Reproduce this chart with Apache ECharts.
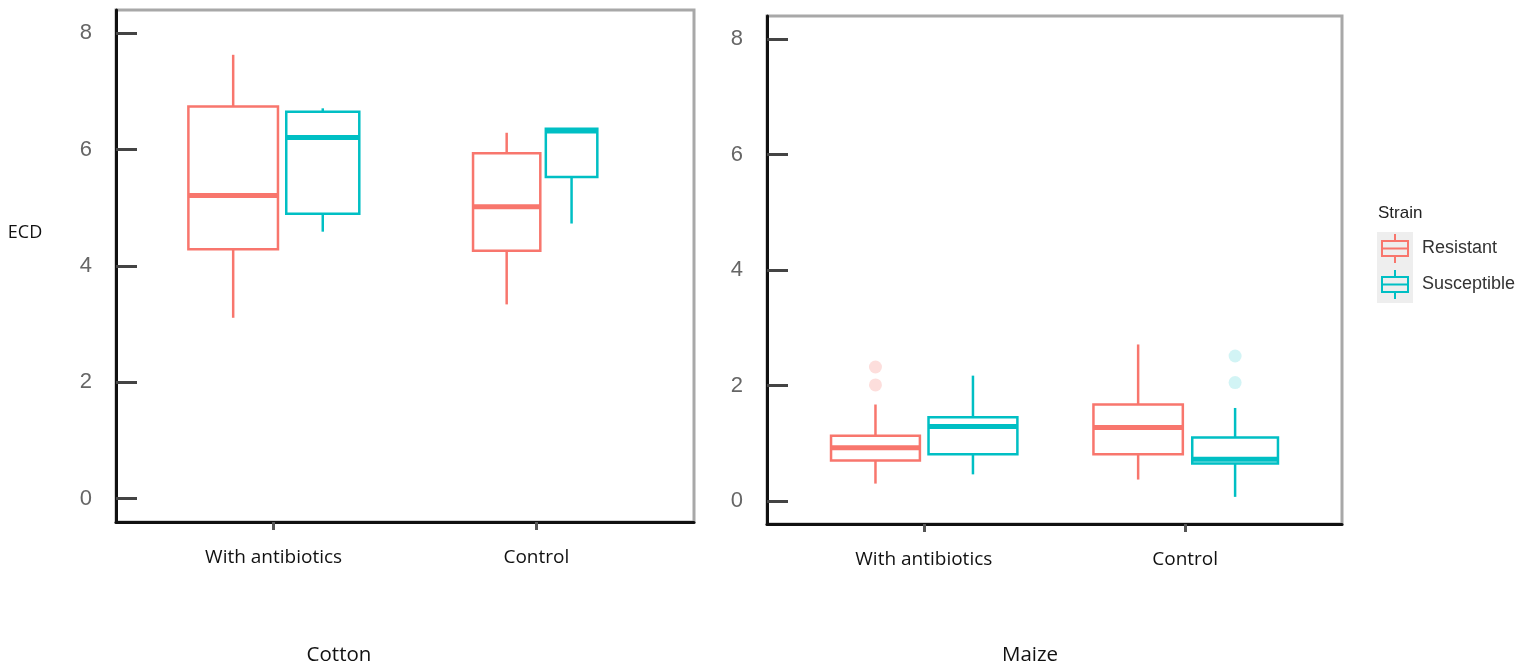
<!DOCTYPE html>
<html>
<head>
<meta charset="utf-8">
<title>ECD by strain</title>
<script src="https://cdn.jsdelivr.net/npm/echarts@6/dist/echarts.min.js"></script>
<style>
  html, body { margin: 0; padding: 0; background: #fff; }
  #main { width: 1516px; height: 665px; }
</style>
</head>
<body>
<div id="main"></div>
<script>
var categories = ['With antibiotics', 'Control'];
var strains = ['Resistant', 'Susceptible'];
var yTicks = [0, 2, 4, 6, 8];

// box stats per category: [min, Q1, median, Q3, max]
var cottonResistant = [[3.11, 4.29, 5.21, 6.74, 7.63], [3.34, 4.26, 5.02, 5.94, 6.29]];
var cottonSusceptible = [[4.59, 4.90, 6.21, 6.65, 6.71], [4.73, 5.53, 6.32, 6.36, 6.36]];
var maizeResistant = [[0.30, 0.70, 0.92, 1.13, 1.67], [0.37, 0.81, 1.27, 1.67, 2.71]];
var maizeSusceptible = [[0.46, 0.81, 1.29, 1.45, 2.17], [0.07, 0.65, 0.72, 1.10, 1.61]];
// outliers: [category index, value]
var maizeResistantOutliers = [[0, 2.32], [0, 2.01]];
var maizeSusceptibleOutliers = [[1, 2.51], [1, 2.05]];

var colors = { Resistant: '#F8766D', Susceptible: '#00BFC4' };
var outlierColors = { Resistant: 'rgba(248,118,109,0.3)', Susceptible: 'rgba(0,191,196,0.22)' };

// box offset from the category tick and box width, in x-axis units
var cottonLayout = {
  Resistant: [[-0.154, 0.341], [-0.113, 0.256]],
  Susceptible: [[0.187, 0.278], [0.134, 0.196]]
};
var maizeLayout = {
  Resistant: [[-0.185, 0.34], [-0.18, 0.342]],
  Susceptible: [[0.188, 0.34], [0.191, 0.328]]
};

var keyIcon = 'path://M0 6 L28 6 L28 23 L0 23 Z M2 8 L2 21 L26 21 L26 8 Z ' +
  'M2 13.5 L26 13.5 L26 15.5 L2 15.5 Z M13 0 L15 0 L15 6 L13 6 Z M13 23 L15 23 L15 29 L13 29 Z';

var labelFont = 'Open Sans';

function boxSeries(name, stats, layout, gi) {
  var color = colors[name];
  return {
    name: name,
    type: 'custom',
    xAxisIndex: gi,
    yAxisIndex: gi,
    itemStyle: { color: color },
    data: stats.map(function (s, i) { return [i + 1].concat(s); }),
    encode: { x: 0, y: [1, 2, 3, 4, 5] },
    renderItem: function (params, api) {
      var lay = layout[params.dataIndex];
      var xm = api.value(0) + lay[0];
      var left = api.coord([xm - lay[1] / 2, 0])[0];
      var right = api.coord([xm + lay[1] / 2, 0])[0];
      var pMin = api.coord([xm, api.value(1)]);
      var pQ1 = api.coord([xm, api.value(2)]);
      var pMed = api.coord([xm, api.value(3)]);
      var pQ3 = api.coord([xm, api.value(4)]);
      var pMax = api.coord([xm, api.value(5)]);
      var ls = { stroke: color, lineWidth: 2.5, fill: 'none' };
      return {
        type: 'group',
        children: [
          { type: 'line', shape: { x1: pMax[0], y1: pMax[1], x2: pQ3[0], y2: pQ3[1] }, style: ls },
          { type: 'line', shape: { x1: pQ1[0], y1: pQ1[1], x2: pMin[0], y2: pMin[1] }, style: ls },
          { type: 'rect', shape: { x: left, y: pQ3[1], width: right - left, height: pQ1[1] - pQ3[1] }, style: ls },
          { type: 'line', shape: { x1: left, y1: pMed[1], x2: right, y2: pMed[1] }, style: { stroke: color, lineWidth: 5 } }
        ]
      };
    }
  };
}

function outlierSeries(name, pts, layout, gi) {
  return {
    name: name + ' outliers',
    type: 'scatter',
    xAxisIndex: gi,
    yAxisIndex: gi,
    symbolSize: 13,
    itemStyle: { color: outlierColors[name] },
    data: pts.map(function (p) { return [p[0] + 1 + layout[name][p[0]][0], p[1]]; })
  };
}

function xAxisFor(gi) {
  return {
    gridIndex: gi, type: 'value', min: 0.4, max: 2.6,
    splitLine: { show: false },
    axisLine: { show: true, onZero: false, lineStyle: { color: '#111', width: 3 } },
    axisTick: { show: true, customValues: [1, 2], length: 8, lineStyle: { color: '#555', width: 3 } },
    axisLabel: {
      customValues: [1, 2], margin: 26,
      formatter: function (v) { return categories[Math.round(v) - 1]; },
      fontFamily: labelFont, fontSize: 19, color: '#111'
    }
  };
}

function yAxisFor(gi) {
  return {
    gridIndex: gi, type: 'value', min: -0.4, max: 8.4,
    splitLine: { show: false },
    axisLine: { show: true, onZero: false, lineStyle: { color: '#111', width: 3 } },
    axisTick: { show: true, inside: true, customValues: yTicks, length: 21, lineStyle: { color: '#444', width: 3 } },
    axisLabel: { customValues: yTicks, margin: 24, fontFamily: 'Liberation Sans', fontSize: 22, color: '#666' }
  };
}

var myChart = echarts.init(document.getElementById('main'));

var option = {
  animation: false,
  grid: [
    { left: 116, top: 10, width: 578, height: 512, show: true, borderColor: '#a8a8a8', borderWidth: 3 },
    { left: 767, top: 16, width: 575, height: 508, show: true, borderColor: '#a8a8a8', borderWidth: 3 }
  ],
  xAxis: [xAxisFor(0), xAxisFor(1)],
  yAxis: [yAxisFor(0), yAxisFor(1)],
  legend: {
    orient: 'vertical', left: 1381, top: 234, padding: 0,
    itemWidth: 28, itemHeight: 29, itemGap: 7,
    selectedMode: false, z: 5,
    data: strains.map(function (s) { return { name: s, icon: keyIcon }; }),
    textStyle: { fontFamily: 'Liberation Sans', fontSize: 18, color: '#333', padding: [0, 0, 0, 8] }
  },
  graphic: [
    { type: 'rect', left: 1377, top: 232, shape: { width: 36, height: 71 }, style: { fill: '#eeeeee' }, z: 0 },
    { type: 'text', left: 1378, top: 205, style: { text: 'Strain', fontFamily: 'Liberation Sans', fontSize: 17, fill: '#222' } },
    { type: 'text', x: 25, y: 233, style: { text: 'ECD', fontFamily: labelFont, fontSize: 18, fill: '#111', align: 'center', verticalAlign: 'middle' } },
    { type: 'text', x: 339, y: 655, style: { text: 'Cotton', fontFamily: labelFont, fontSize: 20.5, fill: '#111', align: 'center', verticalAlign: 'middle' } },
    { type: 'text', x: 1030, y: 655, style: { text: 'Maize', fontFamily: labelFont, fontSize: 20.5, fill: '#111', align: 'center', verticalAlign: 'middle' } }
  ],
  series: [
    boxSeries('Resistant', cottonResistant, cottonLayout.Resistant, 0),
    boxSeries('Susceptible', cottonSusceptible, cottonLayout.Susceptible, 0),
    boxSeries('Resistant', maizeResistant, maizeLayout.Resistant, 1),
    boxSeries('Susceptible', maizeSusceptible, maizeLayout.Susceptible, 1),
    outlierSeries('Resistant', maizeResistantOutliers, maizeLayout, 1),
    outlierSeries('Susceptible', maizeSusceptibleOutliers, maizeLayout, 1)
  ]
};

myChart.setOption(option);
</script>
</body>
</html>
